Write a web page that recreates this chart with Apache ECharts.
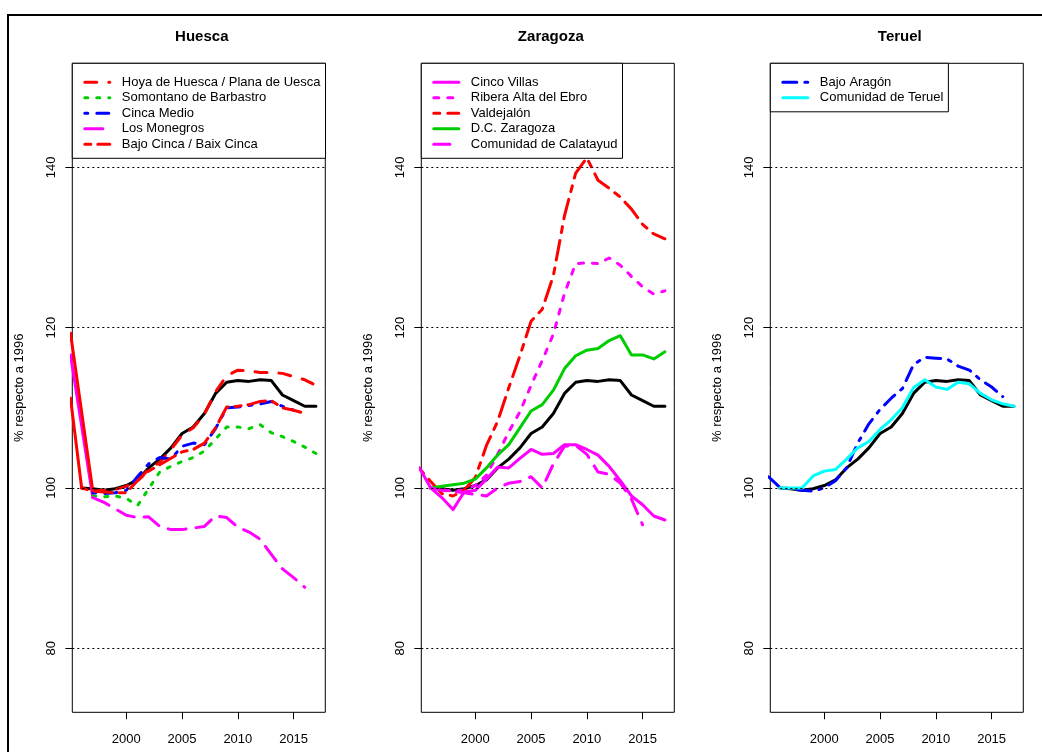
<!DOCTYPE html>
<html>
<head>
<meta charset="utf-8">
<script src="https://cdn.jsdelivr.net/npm/echarts@6/dist/echarts.min.js"></script>
<style>
html,body{margin:0;padding:0;background:#fff;}
#c{width:1042px;height:752px;}
</style>
</head>
<body>
<div id="c"></div>
<script>
// ---------- data ----------
var years = [1995,1996,1997,1998,1999,2000,2001,2002,2003,2004,2005,2006,2007,2008,2009,2010,2011,2012,2013,2014,2015,2016,2017];
var xTicks = [2000, 2005, 2010, 2015];
var yTicks = [80, 100, 120, 140];
var panelTitles = ['Huesca', 'Zaragoza', 'Teruel'];

// Aragón total (black, drawn in every panel)
var aragon = [null,100,99.9,99.7,99.9,100.3,101.0,102.5,103.6,105.0,106.8,107.6,109.3,111.8,113.2,113.4,113.3,113.5,113.4,111.6,110.9,110.2,110.2];

// Huesca
var hoya       = [null,null,99.6,99.7,99.8,100.2,100.9,102.3,103.2,104.8,106.6,107.5,109.2,112.0,114.0,114.7,114.6,114.4,114.4,114.3,113.9,113.5,112.8];
var somontano  = [null,null,99.0,98.9,99.0,98.7,97.8,99.9,102.0,102.7,103.3,103.8,104.6,106.1,107.6,107.6,107.4,107.9,106.9,106.4,105.8,105.1,104.3];
var cincaMedio = [null,null,99.4,99.3,99.4,99.7,101.4,103.0,103.8,103.6,105.2,105.6,105.4,107.4,110.0,110.1,110.3,110.5,110.8,110.2,109.7,null,null];
var monegros   = [null,null,98.8,98.2,97.4,96.6,96.3,96.4,95.2,94.8,94.8,95.0,95.2,96.5,96.3,95.1,94.5,93.6,91.7,89.9,88.8,87.6,null];
var bajoCinca  = [null,100,99.6,99.5,99.4,99.4,100.9,102.1,102.9,103.7,104.5,104.8,105.6,107.5,110.1,110.2,110.4,110.8,110.9,110.0,109.7,109.3,null];
// steep solid lead-in segments entering from the left edge (Huesca)
var hoyaLeadYears = [1995, 1997];      var hoyaLead = [119.3, 99.6];
var monegrosLeadYears = [1995, 1997];  var monegrosLead = [116.6, 98.8];
var bajoCincaLeadYears = [1995, 1996]; var bajoCincaLead = [111.2, 100];

// Zaragoza
var cincoVillas = [102.5,100,98.8,97.3,99.5,99.7,101.1,102.6,102.5,103.7,104.8,104.2,104.3,105.4,105.4,104.8,104.1,102.7,100.9,99.0,97.9,96.5,96.0];
var ribera      = [null,100,99.8,99.6,99.8,100.3,101.6,104.2,107.0,109.5,112.8,115.9,119.2,124.3,128.0,128.1,128.0,128.7,127.8,126.4,125.1,124.2,124.6];
var valdejalon  = [102.4,100.8,99.3,99.0,99.7,101.3,105.3,108.3,112.5,116.5,120.8,122.3,126.5,134.0,139.3,141.2,138.4,137.4,136.3,134.8,132.9,131.7,131.1];
var dcZaragoza  = [null,100,100.2,100.4,100.6,101.1,102.5,104.1,105.4,107.5,109.6,110.4,112.2,114.9,116.5,117.2,117.4,118.4,119.0,116.6,116.6,116.1,117.0];
var calatayud   = [null,100,99.7,99.6,99.4,99.2,99.0,100.0,100.6,100.8,101.4,100.0,103.0,105.2,105.3,104.2,102.0,101.7,100.6,98.6,95.4,null,null];

// Teruel
var bajoAragon      = [101.4,100.1,99.9,99.7,99.6,100.0,100.9,102.5,105.6,108.0,109.8,111.2,112.4,115.4,116.3,116.2,116.1,115.2,114.7,113.5,112.6,111.4,null];
var comunidadTeruel = [null,100,100,100,101.5,102.1,102.3,103.6,105.0,105.8,107.3,108.5,110.0,112.5,113.5,112.6,112.3,113.2,113.0,111.8,111.0,110.5,110.2];

// ---------- helpers ----------
function pairs(xs, vals){
  var out = [];
  for (var i = 0; i < xs.length; i++) if (vals[i] !== null) out.push([xs[i], vals[i]]);
  return out;
}
var FONT = 'Liberation Sans, Arial, sans-serif';
var FS = 13;
var gridLefts = [72.3, 421.3, 770.3];
var GRID_TOP = 63.3, GRID_W = 253, GRID_H = 649;

function lineSeries(name, gi, vals, color, dash, xs){
  return {
    name: name, type: 'line', xAxisIndex: gi, yAxisIndex: gi,
    data: pairs(xs || years, vals), showSymbol: false, symbol: 'none',
    clip: true, silent: true,
    lineStyle: {color: color, width: 3, type: dash, cap: 'round', join: 'round'},
    itemStyle: {color: color}
  };
}

var RED = '#ff0000', GREEN = '#00cd00', BLUE = '#0000ff', MAG = '#ff00ff', CYAN = '#00ffff', BLACK = '#000000';

var series = [];
for (var g = 0; g < 3; g++) {
  var s = lineSeries('Aragón' + g, g, aragon, BLACK, 'solid');
  s.markLine = {
    silent: true, symbol: ['none','none'], animation: false,
    label: {show: false},
    lineStyle: {color: '#000', width: 1, type: [2, 3], cap: 'butt'},
    data: yTicks.map(function(v){ return {yAxis: v}; })
  };
  series.push(s);
}
// Huesca
series.push(lineSeries('leadBajoCinca', 0, bajoCincaLead, RED, 'solid', bajoCincaLeadYears));
series.push(lineSeries('leadMonegros', 0, monegrosLead, MAG, 'solid', monegrosLeadYears));
series.push(lineSeries('leadHoya', 0, hoyaLead, RED, 'solid', hoyaLeadYears));
series.push(lineSeries('Hoya de Huesca / Plana de Uesca', 0, hoya, RED, [12, 12]));
series.push(lineSeries('Somontano de Barbastro', 0, somontano, GREEN, [3, 9]));
series.push(lineSeries('Cinca Medio', 0, cincaMedio, BLUE, [3, 9, 12, 9]));
series.push(lineSeries('Los Monegros', 0, monegros, MAG, [18, 10]));
series.push(lineSeries('Bajo Cinca / Baix Cinca', 0, bajoCinca, RED, [6, 7, 18, 7]));
// Zaragoza
series.push(lineSeries('Ribera Alta del Ebro', 1, ribera, MAG, [5, 9]));
series.push(lineSeries('Valdejalón', 1, valdejalon, RED, [6, 8, 20, 8]));
series.push(lineSeries('D.C. Zaragoza', 1, dcZaragoza, GREEN, 'solid'));
series.push(lineSeries('Comunidad de Calatayud', 1, calatayud, MAG, [16, 10]));
series.push(lineSeries('Cinco Villas', 1, cincoVillas, MAG, 'solid'));
// Teruel
series.push(lineSeries('Bajo Aragón', 2, bajoAragon, BLUE, [14, 8, 3, 8]));
series.push(lineSeries('Comunidad de Teruel', 2, comunidadTeruel, CYAN, 'solid'));

var legendNames = [
  ['Hoya de Huesca / Plana de Uesca', 'Somontano de Barbastro', 'Cinca Medio', 'Los Monegros', 'Bajo Cinca / Baix Cinca'],
  ['Cinco Villas', 'Ribera Alta del Ebro', 'Valdejalón', 'D.C. Zaragoza', 'Comunidad de Calatayud'],
  ['Bajo Aragón', 'Comunidad de Teruel']
];

var grids = [], xAxes = [], yAxes = [], titles = [], legends = [];
for (var i = 0; i < 3; i++) {
  grids.push({left: gridLefts[i], top: GRID_TOP, width: GRID_W, height: GRID_H,
    show: true, borderColor: '#000', borderWidth: 1, backgroundColor: 'transparent', containLabel: false});
  xAxes.push({
    type: 'value', gridIndex: i, min: 1995.16, max: 2017.84,
    axisLine: {show: false}, splitLine: {show: false},
    axisTick: {show: true, inside: false, length: 7, customValues: xTicks, lineStyle: {color: '#000', width: 1}},
    axisLabel: {show: true, customValues: xTicks, margin: 21, color: '#000', fontSize: FS, fontFamily: FONT,
      formatter: function(v){ return String(v); }}
  });
  yAxes.push({
    type: 'value', gridIndex: i, min: 72, max: 153,
    name: '% respecto a 1996', nameLocation: 'middle', nameRotate: 90, nameGap: 46,
    nameTextStyle: {color: '#000', fontSize: FS, fontFamily: FONT},
    axisLine: {show: false}, splitLine: {show: false},
    axisTick: {show: true, inside: false, length: 7, customValues: yTicks, lineStyle: {color: '#000', width: 1}},
    axisLabel: {show: true, customValues: yTicks, rotate: 90, margin: 14, color: '#000', fontSize: FS, fontFamily: FONT}
  });
  titles.push({
    text: panelTitles[i], left: gridLefts[i] + GRID_W / 2 - 2, top: 24, textAlign: 'center',
    textStyle: {fontSize: 15, fontWeight: 'bold', color: '#000', fontFamily: FONT}
  });
  legends.push({
    data: legendNames[i], orient: 'vertical', left: gridLefts[i], top: GRID_TOP,
    backgroundColor: '#fff', borderColor: '#000', borderWidth: 1, borderRadius: 0,
    padding: [12, 5, 7, 11], itemWidth: 25, itemHeight: 14, itemGap: 1.5,
    selectedMode: false, z: 10,
    itemStyle: {opacity: 0},
    lineStyle: {width: 3},
    textStyle: {fontSize: FS, color: '#000', fontFamily: FONT, padding: [0, 0, 0, 7], lineHeight: 14}
  });
}

var chart = echarts.init(document.getElementById('c'), null, {renderer: 'canvas'});
chart.setOption({
  animation: false,
  backgroundColor: '#fff',
  title: titles,
  legend: legends,
  grid: grids,
  xAxis: xAxes,
  yAxis: yAxes,
  series: series,
  graphic: [{
    type: 'rect', silent: true, z: 100,
    shape: {x: 8, y: 15, width: 1100, height: 800},
    style: {fill: 'none', stroke: '#000', lineWidth: 2}
  }]
});
</script>
</body>
</html>
